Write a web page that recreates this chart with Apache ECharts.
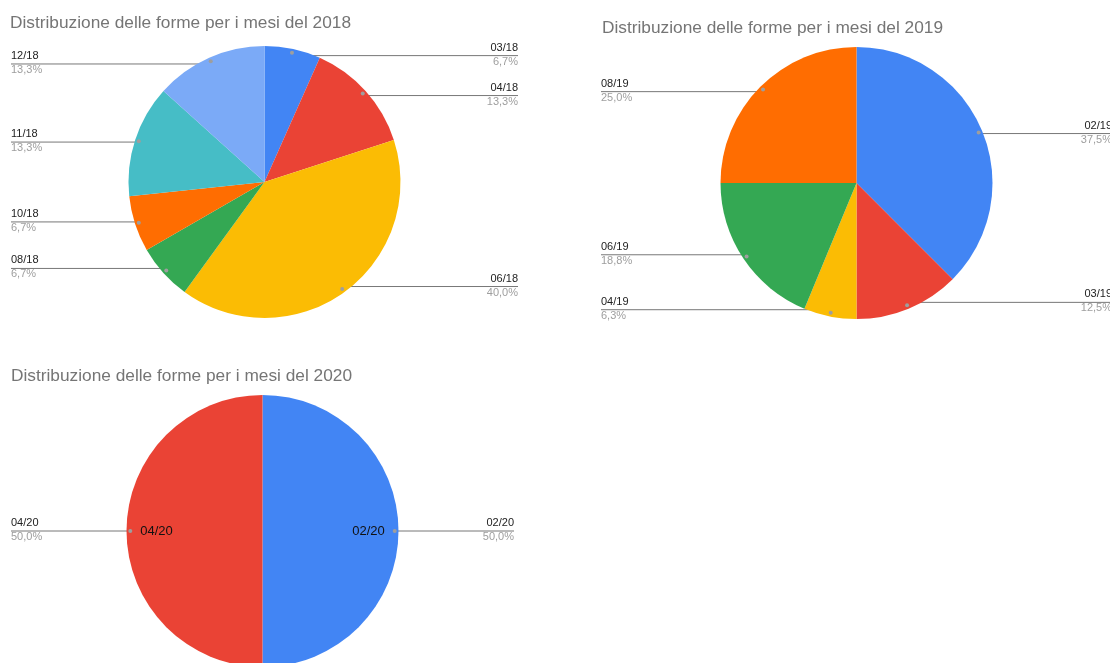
<!DOCTYPE html>
<html>
<head>
<meta charset="utf-8">
<script src="https://cdn.jsdelivr.net/npm/echarts@6/dist/echarts.min.js"></script>
<style>
  html, body { margin: 0; padding: 0; background: #fff; }
  #chart { width: 1110px; height: 663px; }
</style>
</head>
<body>
<div id="chart"></div>
<script>
// data (counts per month)
const months2018 = ['03/18', '04/18', '06/18', '08/18', '10/18', '11/18', '12/18'];
const counts2018 = [1, 2, 6, 1, 1, 2, 2];
const months2019 = ['02/19', '03/19', '04/19', '06/19', '08/19'];
const counts2019 = [6, 2, 1, 3, 4];
const months2020 = ['02/20', '04/20'];
const counts2020 = [1, 1];
const titles = [
  'Distribuzione delle forme per i mesi del 2018',
  'Distribuzione delle forme per i mesi del 2019',
  'Distribuzione delle forme per i mesi del 2020'
];

const palette = ['#4285F4', '#EA4335', '#FBBC04', '#34A853', '#FF6D01', '#46BDC6', '#7BAAF7'];
const FONT = '"Liberation Sans", Arial, sans-serif';
const R = 136;

// pie centres and the x where left / right labels end
const panels = [
  { cx: 264.5, cy: 182, leftX: 11, rightX: 518, tx: 10, ty: 15 },
  { cx: 856.5, cy: 183, leftX: 601, rightX: 1112, tx: 602, ty: 20 },
  { cx: 262.5, cy: 531, leftX: 11, rightX: 514, tx: 11, ty: 368 }
];

const toData = (names, vals) => names.map((n, i) => ({ name: n, value: vals[i] }));

// google-sheets style: line starts inside the slice and runs flat to the edge, under the text
let makeLayout = (p) => {
  return function (params) {
    const pts = params.labelLinePoints;
    if (!pts) return;
    const ax = p.cx + (pts[0][0] - p.cx) * 0.95;
    const ay = p.cy + (pts[0][1] - p.cy) * 0.95;
    const isLeft = ax < p.cx;
    const endX = isLeft ? p.leftX : p.rightX;
    return {
      x: endX,
      y: ay,
      align: isLeft ? 'left' : 'right',
      verticalAlign: 'middle',
      labelLinePoints: [[ax, ay], [ax, ay], [endX, ay]]
    };
  };
};

let mainSeries = (p, names, vals) => ({
  type: 'pie',
  center: [p.cx, p.cy],
  radius: [0, R],
  startAngle: 90,
  clockwise: true,
  data: toData(names, vals),
  itemStyle: { borderWidth: 0, color: (d) => palette[d.dataIndex] },
  label: {
    position: 'outer',
    formatter: (d) => '{n|' + d.name + '}\n{p|' + d.percent.toFixed(1).replace('.', ',') + '%}',
    rich: {
      n: { fontSize: 11, color: '#222', lineHeight: 12, fontFamily: FONT },
      p: { fontSize: 11, color: '#9e9e9e', lineHeight: 16, fontFamily: FONT }
    }
  },
  labelLine: { show: true, length: 0, length2: 10, lineStyle: { color: '#777', width: 1 } },
  labelLayout: makeLayout(p),
  emphasis: { disabled: true }
});

// transparent copy that only puts the small grey dot at the line start
let dotSeries = (p, names, vals) => ({
  type: 'pie',
  center: [p.cx, p.cy],
  radius: [R * 0.9, R],
  silent: true,
  data: toData(names, vals),
  itemStyle: { color: 'rgba(0,0,0,0)' },
  label: {
    position: 'inside',
    formatter: '{d|}',
    rich: { d: { width: 4, height: 4, borderRadius: 2, backgroundColor: '#9e9e9e' } }
  },
  labelLine: { show: false },
  emphasis: { disabled: true }
});

const p3 = panels[2];
const option = {
  backgroundColor: '#fff',
  animation: false,
  title: titles.map((t, i) => ({
    text: t,
    left: panels[i].tx,
    top: panels[i].ty,
    padding: 0,
    textStyle: { fontSize: 17.3, fontWeight: 'normal', color: '#757575', fontFamily: FONT }
  })),
  series: [
    mainSeries(panels[0], months2018, counts2018),
    mainSeries(panels[1], months2019, counts2019),
    mainSeries(panels[2], months2020, counts2020),
    dotSeries(panels[0], months2018, counts2018),
    dotSeries(panels[1], months2019, counts2019),
    dotSeries(panels[2], months2020, counts2020),
    {
      // names written inside the 2020 halves
      type: 'pie',
      center: [p3.cx, p3.cy],
      radius: [70, R],
      silent: true,
      data: toData(months2020, counts2020),
      itemStyle: { color: 'rgba(0,0,0,0)' },
      label: { position: 'inside', formatter: '{b}', fontSize: 13, color: '#111', fontFamily: FONT },
      labelLine: { show: false },
      emphasis: { disabled: true }
    }
  ]
};

const chart = echarts.init(document.getElementById('chart'));
chart.setOption(option);
</script>
</body>
</html>
